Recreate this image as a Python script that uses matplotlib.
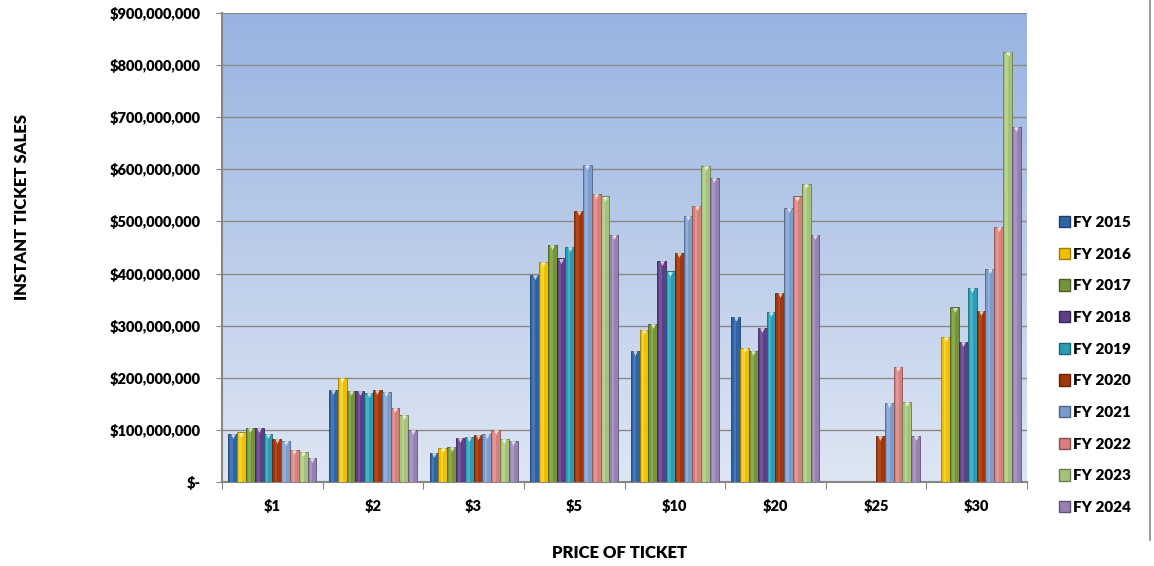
import numpy as np
import matplotlib
matplotlib.use("Agg")
import matplotlib.pyplot as plt
from matplotlib.patches import Patch
from matplotlib.ticker import FuncFormatter
from matplotlib.colors import LinearSegmentedColormap

categories = ["$1", "$2", "$3", "$5", "$10", "$20", "$25", "$30"]
years = ["FY 2015", "FY 2016", "FY 2017", "FY 2018", "FY 2019",
         "FY 2020", "FY 2021", "FY 2022", "FY 2023", "FY 2024"]

# values in millions of dollars, per year across categories
fy2015 = [93, 176, 56, 397, 251, 316, 0, 0]
fy2016 = [95, 200, 66, 422, 291, 258, 0, 278]
fy2017 = [103, 174, 67, 455, 303, 251, 0, 335]
fy2018 = [103, 174, 85, 429, 424, 296, 0, 268]
fy2019 = [93, 170, 86, 451, 404, 326, 0, 373]
fy2020 = [82, 177, 90, 520, 440, 362, 88, 328]
fy2021 = [79, 172, 93, 609, 510, 526, 151, 409]
fy2022 = [61, 142, 99, 552, 529, 548, 221, 489]
fy2023 = [57, 128, 83, 548, 606, 572, 154, 825]
fy2024 = [46, 100, 79, 474, 583, 474, 88, 681]
series = [fy2015, fy2016, fy2017, fy2018, fy2019,
          fy2020, fy2021, fy2022, fy2023, fy2024]

colors = ["#2F63A3", "#F0C000", "#76953A", "#5E3F87", "#2A9DB5",
          "#A0360A", "#7C9CCC", "#D6807D", "#A6C27A", "#9682B1"]
edges = ["#1E416C", "#9E7E00", "#4A5F24", "#3B2756", "#1A6575",
         "#652205", "#4F6585", "#8A524F", "#6B7D4D", "#5F5371"]
highlights = ["#5A8BC8", "#FFE066", "#9CBD5E", "#8568AE", "#5CC5DA",
              "#C8582A", "#A4C0E6", "#EDA8A5", "#C8E09E", "#BAA8D2"]

FONT = "Lato"
WEIGHT = "heavy"

fig = plt.figure(figsize=(11.54, 5.66), dpi=100)
ax = fig.add_axes([222/1154, 1-482/566, (1027-222)/1154, (482-13)/566])

grad = np.linspace(0, 1, 256).reshape(-1, 1)
bgcmap = LinearSegmentedColormap.from_list("bg", ["#DEE6F3", "#98B3E1"])
ax.imshow(grad, aspect="auto", cmap=bgcmap, origin="lower",
          extent=[0, 1, 0, 1], transform=ax.transAxes, zorder=0)

n = len(series)
x = np.arange(len(categories))
bw = 0.875 / n
for i, vals in enumerate(series):
    v = np.array(vals) * 1e6
    pos = x - 0.4375 + bw * (i + 0.5)
    mask = v > 0
    ax.bar(pos[mask], v[mask], width=bw, color=colors[i], edgecolor=edges[i],
           linewidth=0.6, zorder=3)
    ax.bar(pos[mask] - bw * 0.1, v[mask] - 2.5e6, width=bw * 0.3,
           color=highlights[i], linewidth=0, alpha=0.55, zorder=4)
    ax.scatter(pos[mask], v[mask] - 4e6, marker="v", s=12, color="white",
               alpha=0.7, linewidths=0, zorder=5)

ax.set_xlim(-0.5, len(categories) - 0.5)
ax.set_ylim(0, 900e6)
ax.set_yticks(np.arange(0, 900e6 + 1, 100e6))
ax.set_xticks(np.arange(len(categories) + 1) - 0.5, minor=False)
ax.set_xticks(x, minor=True)
ax.set_xticklabels([""] * (len(categories) + 1))
ax.set_xticklabels(categories, minor=True)
ax.tick_params(axis="x", which="minor", length=0, pad=12)
ax.tick_params(axis="x", which="major", length=5, color="#868686", direction="out")
ax.tick_params(axis="y", length=4.5, color="#868686", pad=11)
ax.grid(axis="y", color="#8A8A8A", linewidth=1.0, zorder=1)
ax.set_axisbelow(False)
for s in ["top", "right"]:
    ax.spines[s].set_visible(False)
for s in ["left", "bottom"]:
    ax.spines[s].set_color("#868686")
    ax.spines[s].set_linewidth(1.5)

def fmt(v, p):
    if v == 0:
        return "$-"
    return "${:,.0f}".format(v)
ax.yaxis.set_major_formatter(FuncFormatter(fmt))

for lab in ax.get_yticklabels() + ax.get_xticklabels(minor=True):
    lab.set_fontfamily(FONT)
    lab.set_fontweight(WEIGHT)
    lab.set_fontsize(10.5)
    lab.set_color("black")

fig.text(22/1154, 1-207/566, "INSTANT TICKET SALES", rotation=90,
         ha="center", va="center", fontsize=12, fontweight=WEIGHT,
         family=FONT, color="black")
fig.text(620/1154, 1-553/566, "PRICE OF TICKET", ha="center", va="center",
         fontsize=12, fontweight=WEIGHT, family=FONT, color="black")

handles = [Patch(facecolor=colors[i], edgecolor=edges[i], label=years[i])
           for i in range(n)]
leg = fig.legend(handles=handles, loc="center left",
                 bbox_to_anchor=(1045/1154, 1-365/566), frameon=False,
                 prop={"family": FONT, "weight": WEIGHT, "size": 11},
                 handlelength=0.75, handleheight=0.75, handletextpad=0.2,
                 labelspacing=1.22)

fig.add_artist(plt.Line2D([1150/1154, 1150/1154], [1-540/566, 1.0],
                          color="#888888", linewidth=1.2,
                          transform=fig.transFigure))

fig.savefig("out.png", dpi=100, facecolor="white")
